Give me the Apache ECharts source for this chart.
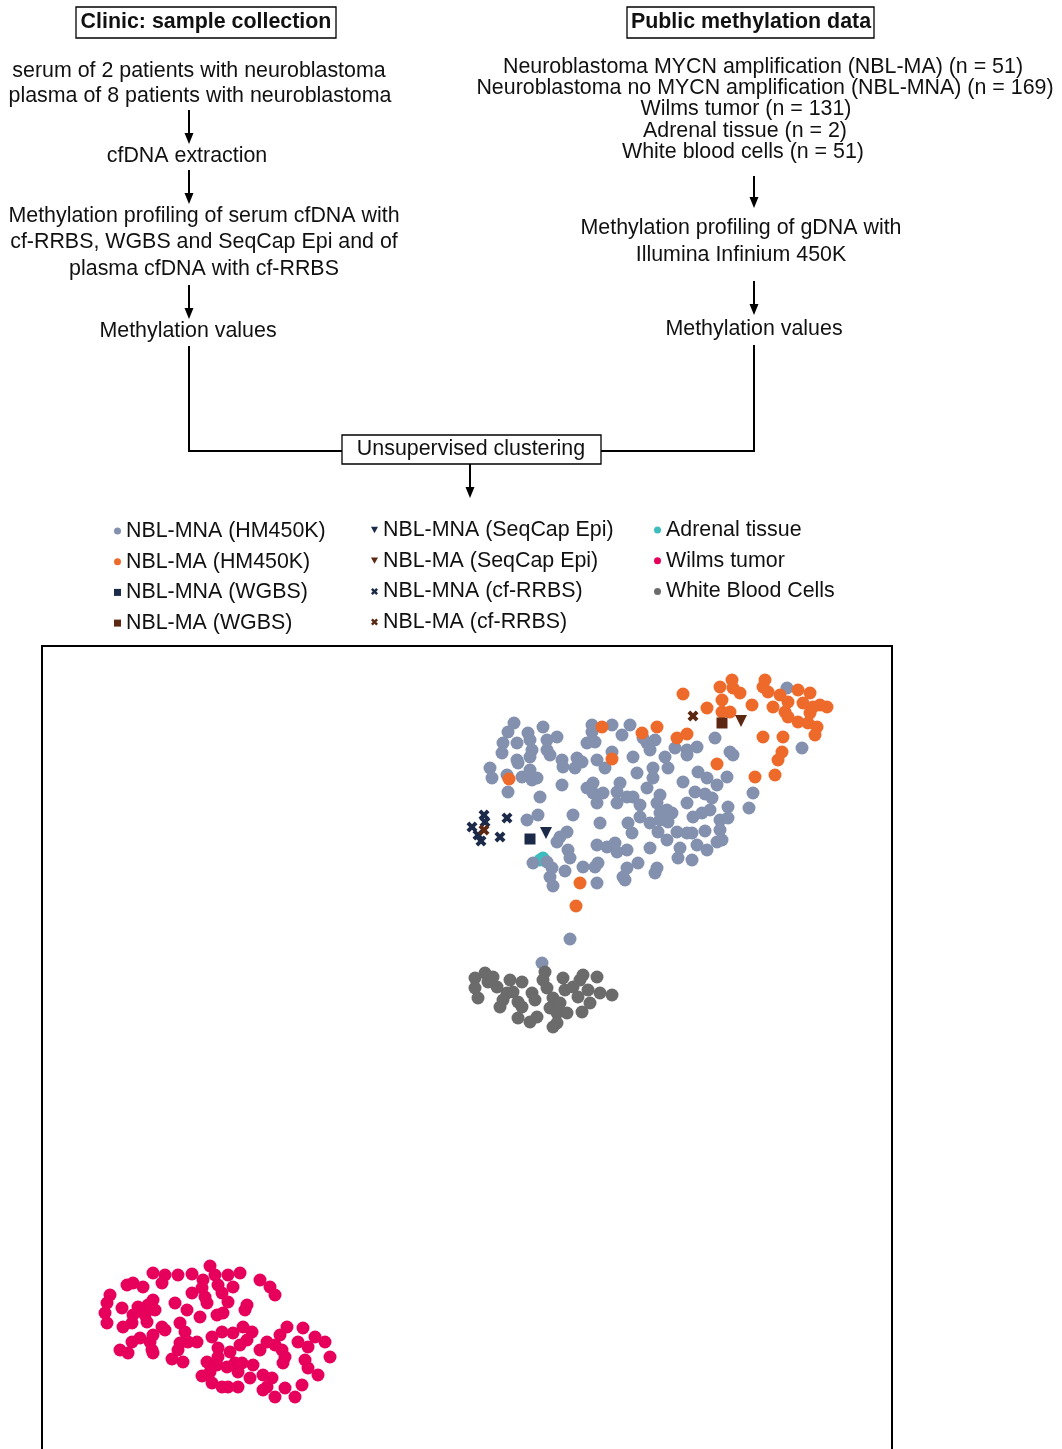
<!DOCTYPE html>
<html lang="en">
<head>
  <meta charset="UTF-8">
  <title>Methylation clustering</title>
  <script src="https://cdn.jsdelivr.net/npm/echarts@6/dist/echarts.min.js"></script>
</head>
<style>
  html, body { margin: 0; padding: 0; background: #fff; }
  #main { width: 1062px; height: 1449px; }
</style>
<body>
<div id="main"></div>
<script>
  // point positions (pixel-like units of the plot box)
  const mnaHM450K = [
    [514,723],[508,732],[528,733],[543,727],[503,743],[517,743],[530,740],[547,740],[557,737],[502,753],
    [532,750],[547,750],[550,755],[517,760],[530,757],[562,760],[577,758],[582,762],[563,767],[575,768],
    [597,760],[605,768],[592,725],[592,732],[612,725],[630,725],[622,735],[587,743],[595,742],[612,752],
    [633,757],[643,738],[647,743],[650,750],[655,740],[490,768],[492,778],[507,775],[522,777],[530,770],
    [532,780],[537,778],[508,792],[518,763],[637,773],[653,768],[653,778],[562,785],[587,788],[593,783],
    [603,793],[620,783],[617,792],[633,797],[647,788],[540,797],
    [787,688],[802,748],[715,738],[730,752],[733,755],[697,747],[687,750],[687,755],[675,748],[665,757],
    [668,768],[698,772],[707,778],[727,777],[717,785],[683,782],[695,792],[753,793],[660,795],[705,794],
    [538,815],[527,820],[573,815],[593,793],[597,803],[617,803],[627,797],[640,805],[657,803],[600,823],
    [628,823],[632,833],[640,817],[650,823],[660,813],[567,832],[560,837],[557,842],[568,850],[570,858],
    [597,845],[607,847],[615,843],[617,852],[627,850],[650,848],[533,863],[547,862],[552,868],[550,877],
    [553,886],[565,871],[583,867],[595,867],[598,863],[597,883],[627,868],[623,877],[625,880],[638,863],
    [657,868],
    [687,803],[712,798],[667,810],[672,813],[660,820],[668,822],[693,817],[702,813],[710,810],[720,820],
    [728,818],[728,807],[749,808],[658,832],[677,832],[687,833],[692,833],[705,831],[720,830],[722,840],
    [717,842],[667,840],[680,848],[697,845],[707,850],[678,858],[692,860],[655,873],
    [570,939],[542,963]
  ];
  const maHM450K = [
    [602,727],[612,759],[509,779],[642,733],[657,727],[683,694],[720,687],[732,680],[733,688],[740,693],
    [722,700],[707,708],[722,712],[730,712],[752,705],[765,680],[763,687],[768,692],[773,707],[780,695],
    [788,702],[798,690],[810,693],[803,703],[813,707],[820,705],[827,707],[785,712],[788,717],[798,722],
    [810,713],[808,723],[817,727],[815,735],[763,737],[783,737],[782,752],[778,760],[755,777],[775,775],
    [717,764],[687,734],[677,738],[580,883],[576,906]
  ];
  const mnaWGBS = [[530,839]];
  const maWGBS = [[722,723]];
  const mnaSeqCap = [[546,833]];
  const maSeqCap = [[741,721]];
  const mnaRRBS = [[484,815],[485,822],[472,827],[507,818],[500,837],[481,841],[478,835]];
  const maRRBS = [[484,830],[693,716]];
  const adrenal = [[543,858],[540,860]];
  const wilms = [
    [153,1273],[165,1275],[178,1275],[192,1274],[210,1266],[215,1275],[203,1280],[228,1275],[240,1273],[260,1280],
    [270,1287],[275,1295],[127,1285],[133,1283],[143,1287],[162,1283],[110,1295],[107,1303],[105,1313],[107,1323],
    [122,1308],[133,1315],[138,1307],[148,1305],[153,1300],[155,1310],[145,1315],[147,1322],[132,1323],[123,1327],
    [192,1293],[202,1288],[205,1297],[207,1303],[218,1285],[222,1293],[233,1287],[228,1302],[175,1303],[187,1310],
    [200,1317],[217,1315],[223,1313],[245,1310],[247,1305],[162,1327],[165,1330],[180,1323],[185,1332],[153,1335],
    [140,1338],[132,1342],[120,1350],[128,1353],[150,1342],[152,1350],[153,1353],[180,1343],[188,1342],[197,1342],
    [178,1350],[172,1359],[183,1362],[212,1337],[222,1332],[233,1333],[243,1327],[252,1332],[247,1340],[240,1345],
    [218,1348],[218,1357],[230,1352],[207,1362],[217,1365],[227,1367],[235,1363],[242,1363],[253,1365],[260,1350],
    [267,1342],[275,1345],[280,1335],[287,1327],[282,1350],[285,1357],[283,1363],[303,1328],[298,1342],[308,1347],
    [315,1337],[325,1342],[330,1357],[305,1360],[308,1368],[318,1375],[302,1385],[295,1397],[285,1388],[275,1397],
    [267,1387],[263,1375],[272,1378],[250,1378],[238,1387],[228,1387],[222,1387],[212,1383],[202,1376],[210,1372],
    [238,1372],[263,1390]
  ];
  const wbc = [
    [475,978],[485,973],[475,988],[478,998],[488,982],[497,987],[493,977],[510,980],[522,982],[507,993],
    [513,992],[503,1000],[518,1002],[500,1007],[522,1007],[532,993],[535,1000],[545,972],[543,980],[547,988],
    [563,978],[565,990],[553,998],[550,1008],[560,1003],[557,1013],[567,1013],[557,1023],[553,1027],[518,1018],
    [530,1022],[537,1017],[580,980],[583,975],[597,977],[578,997],[588,990],[590,1003],[600,993],[612,995],
    [582,1012],[573,987]
  ];

  const legendCol1 = ['NBL-MNA (HM450K)', 'NBL-MA (HM450K)', 'NBL-MNA (WGBS)', 'NBL-MA (WGBS)'];
  const legendCol2 = ['NBL-MNA (SeqCap Epi)', 'NBL-MA (SeqCap Epi)', 'NBL-MNA (cf-RRBS)', 'NBL-MA (cf-RRBS)'];
  const legendCol3 = ['Adrenal tissue', 'Wilms tumor', 'White Blood Cells'];

  const leftSteps = [
    ['serum of 2 patients with neuroblastoma', 199, 71],
    ['plasma of 8 patients with neuroblastoma', 200, 96],
    ['cfDNA extraction', 187, 156],
    ['Methylation profiling of serum cfDNA with', 204, 216],
    ['cf-RRBS, WGBS and SeqCap Epi and of', 204, 242],
    ['plasma cfDNA with cf-RRBS', 204, 269],
    ['Methylation values', 188, 331]
  ];
  const rightSteps = [
    ['Neuroblastoma MYCN amplification (NBL-MA) (n = 51)', 763, 67],
    ['Neuroblastoma no MYCN amplification (NBL-MNA) (n = 169)', 765, 88],
    ['Wilms tumor (n = 131)', 746, 109],
    ['Adrenal tissue (n = 2)', 745, 131],
    ['White blood cells (n = 51)', 743, 152],
    ['Methylation profiling of gDNA with', 741, 228],
    ['Illumina Infinium 450K', 741, 255],
    ['Methylation values', 754, 329]
  ];

  const FONT = '"Liberation Sans", Arial, sans-serif';
  const crossPath = 'path://M0,3 L3,0 L6,3 L9,0 L12,3 L9,6 L12,9 L9,12 L6,9 L3,12 L0,9 L3,6 Z';
  const downTri = 'path://M0,0 L10,0 L5,9 Z';

  function txt(s, x, y, bold) {
    return {
      type: 'text', z: 10,
      style: { text: s, x: x, y: y, fill: '#111', align: 'center', verticalAlign: 'middle',
        font: (bold ? 'bold ' : '') + '21.4px ' + FONT }
    };
  }
  function box(x, y, w, h) {
    return { type: 'rect', z: 5, shape: { x: x, y: y, width: w, height: h },
      style: { fill: '#fff', stroke: '#000', lineWidth: 1.3 } };
  }
  function arrow(x, y1, y2) {
    return [
      { type: 'line', shape: { x1: x, y1: y1, x2: x, y2: y2 - 6 }, style: { stroke: '#000', lineWidth: 2 } },
      { type: 'polygon', shape: { points: [[x - 4.5, y2 - 11], [x + 4.5, y2 - 11], [x, y2]] }, style: { fill: '#000' } }
    ];
  }

  let graphics = [];
  graphics.push(box(76, 7, 260, 31), txt('Clinic: sample collection', 206, 22, true));
  graphics.push(box(627, 7, 247, 31), txt('Public methylation data', 751, 22, true));
  leftSteps.forEach(s => graphics.push(txt(s[0], s[1], s[2])));
  rightSteps.forEach(s => graphics.push(txt(s[0], s[1], s[2])));
  graphics = graphics.concat(arrow(189, 110, 144), arrow(189, 170, 204), arrow(189, 285, 319),
    arrow(754, 176, 208), arrow(754, 281, 315), arrow(470, 464, 498));
  graphics.push({ type: 'polyline', shape: { points: [[189, 346], [189, 451], [342, 451]] },
    style: { stroke: '#000', lineWidth: 2, fill: null } });
  graphics.push({ type: 'polyline', shape: { points: [[754, 345], [754, 451], [601, 451]] },
    style: { stroke: '#000', lineWidth: 2, fill: null } });
  graphics.push(box(342, 435, 259, 29), txt('Unsupervised clustering', 471, 449));
  // plot frame, open at the bottom because the figure is cut there
  graphics.push({ type: 'polyline', shape: { points: [[42, 1460], [42, 646], [892, 646], [892, 1460]] },
    style: { stroke: '#000', lineWidth: 2, fill: null } });

  function pts(name, data, color, symbol, size) {
    return {
      name: name, type: 'scatter', data: data, symbol: symbol, symbolSize: size,
      itemStyle: { color: color, opacity: 1 }, silent: true
    };
  }

  const legendBase = {
    orient: 'vertical', itemWidth: 7, itemHeight: 7, itemGap: 8.7,
    textStyle: { fontSize: 21.4, fontFamily: FONT, color: '#111', lineHeight: 22 },
    selectedMode: false
  };

  const chart = echarts.init(document.getElementById('main'));
  chart.setOption({
    animation: false,
    backgroundColor: '#fff',
    grid: { left: 42, top: 646, width: 850, height: 803, show: false, outerBoundsMode: 'none' },
    xAxis: { type: 'value', min: 42, max: 892, show: false },
    yAxis: { type: 'value', min: 646, max: 1449, inverse: true, show: false },
    legend: [
      Object.assign({ left: 109, top: 515, data: legendCol1 }, legendBase),
      Object.assign({ left: 366, top: 514, data: legendCol2 }, legendBase),
      Object.assign({ left: 649, top: 514, data: legendCol3 }, legendBase)
    ],
    graphic: graphics,
    series: [
      pts('Adrenal tissue', adrenal, '#3dbdbd', 'circle', 13),
      pts('NBL-MNA (HM450K)', mnaHM450K, '#8391af', 'circle', 13),
      pts('NBL-MA (HM450K)', maHM450K, '#ee6a2b', 'circle', 13),
      pts('White Blood Cells', wbc, '#6b6b6b', 'circle', 13),
      pts('Wilms tumor', wilms, '#e6005c', 'circle', 13),
      pts('NBL-MNA (WGBS)', mnaWGBS, '#1b2a48', 'rect', 11),
      pts('NBL-MA (WGBS)', maWGBS, '#5c2812', 'rect', 11),
      pts('NBL-MNA (SeqCap Epi)', mnaSeqCap, '#1b2a48', downTri, 12),
      pts('NBL-MA (SeqCap Epi)', maSeqCap, '#5c2812', downTri, 12),
      pts('NBL-MNA (cf-RRBS)', mnaRRBS, '#1b2a48', crossPath, 11),
      pts('NBL-MA (cf-RRBS)', maRRBS, '#5c2812', crossPath, 11)
    ]
  });
</script>
</body>
</html>
